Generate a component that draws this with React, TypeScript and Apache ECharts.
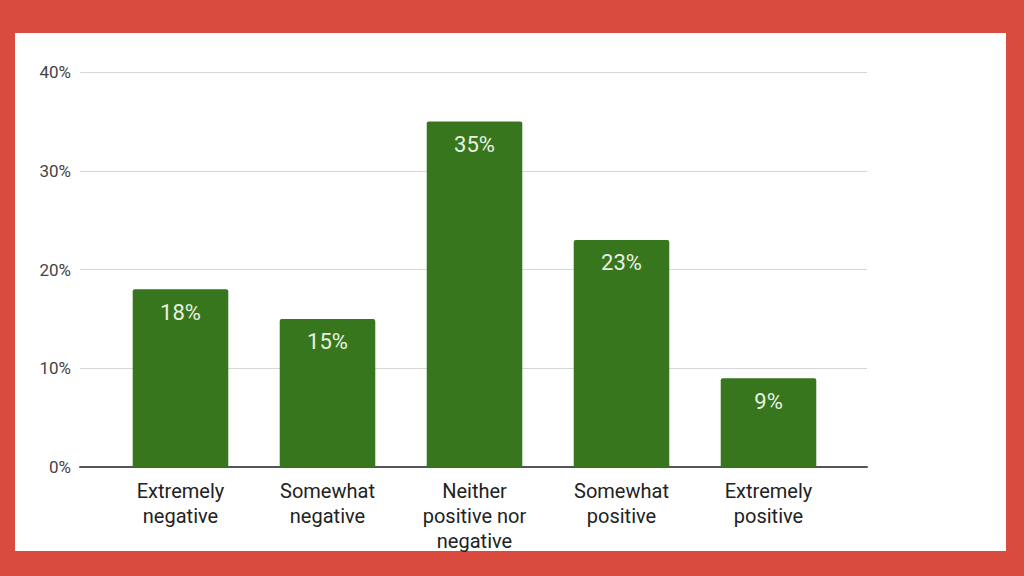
import React, { useEffect, useRef } from "react";
import * as echarts from "echarts";

const categories = [
  "Extremely\nnegative",
  "Somewhat\nnegative",
  "Neither\npositive nor\nnegative",
  "Somewhat\npositive",
  "Extremely\npositive",
];
const values = [18, 15, 35, 23, 9];
const yTicks = [0, 10, 20, 30, 40];

export default function App() {
  const ref = useRef<HTMLDivElement>(null);
  useEffect(() => {
    if (!ref.current) return;
    const chart = echarts.init(ref.current, null, { renderer: "svg" });
    const top = 72;
    const bottom = 109;
    chart.setOption({
      animation: false,
      backgroundColor: "#D94B3F",
      graphic: [
        {
          type: "rect",
          z: -10,
          shape: { x: 15, y: 33, width: 991, height: 518 },
          style: { fill: "#ffffff" },
        },
      ],
      grid: [
        { left: 107, right: 182, top, bottom },
        { left: 80, right: 157, top, bottom },
      ],
      xAxis: [
        {
          type: "category",
          gridIndex: 0,
          data: categories,
          axisLine: { show: false },
          axisTick: { show: false },
          axisLabel: {
            color: "#222",
            fontFamily: "Roboto",
            fontSize: 20,
            lineHeight: 25,
            margin: 11,
            interval: 0,
          },
        },
        {
          type: "value",
          gridIndex: 1,
          min: 0,
          max: 1,
          axisLine: { show: true, lineStyle: { color: "#555", width: 2 } },
          axisTick: { show: false },
          axisLabel: { show: false },
          splitLine: { show: false },
        },
      ],
      yAxis: [
        {
          type: "value",
          gridIndex: 0,
          min: 0,
          max: 40,
          interval: 10,
          show: false,
          splitLine: { show: false },
        },
        {
          type: "value",
          gridIndex: 1,
          min: yTicks[0],
          max: yTicks[yTicks.length - 1],
          interval: 10,
          axisLine: { show: false },
          axisTick: { show: false },
          axisLabel: {
            formatter: "{value}%",
            color: "#444",
            fontFamily: "Roboto",
            fontSize: 17,
            margin: 9,
          },
          splitLine: { show: true, lineStyle: { color: "#d6d6d6", width: 1 } },
        },
      ],
      series: [
        {
          type: "bar",
          xAxisIndex: 0,
          yAxisIndex: 0,
          data: values,
          barWidth: "65%",
          z: 5,
          itemStyle: { color: "#38761d", borderRadius: [2, 2, 0, 0] },
          label: {
            show: true,
            position: "insideTop",
            distance: 12,
            formatter: "{c}%",
            color: "#e8f0e2",
            fontFamily: "Roboto",
            fontSize: 22,
          },
        },
      ],
    });
    return () => chart.dispose();
  }, []);
  return (
    <div
      ref={ref}
      style={{ position: "absolute", left: 0, top: 0, width: 1024, height: 576 }}
    />
  );
}
